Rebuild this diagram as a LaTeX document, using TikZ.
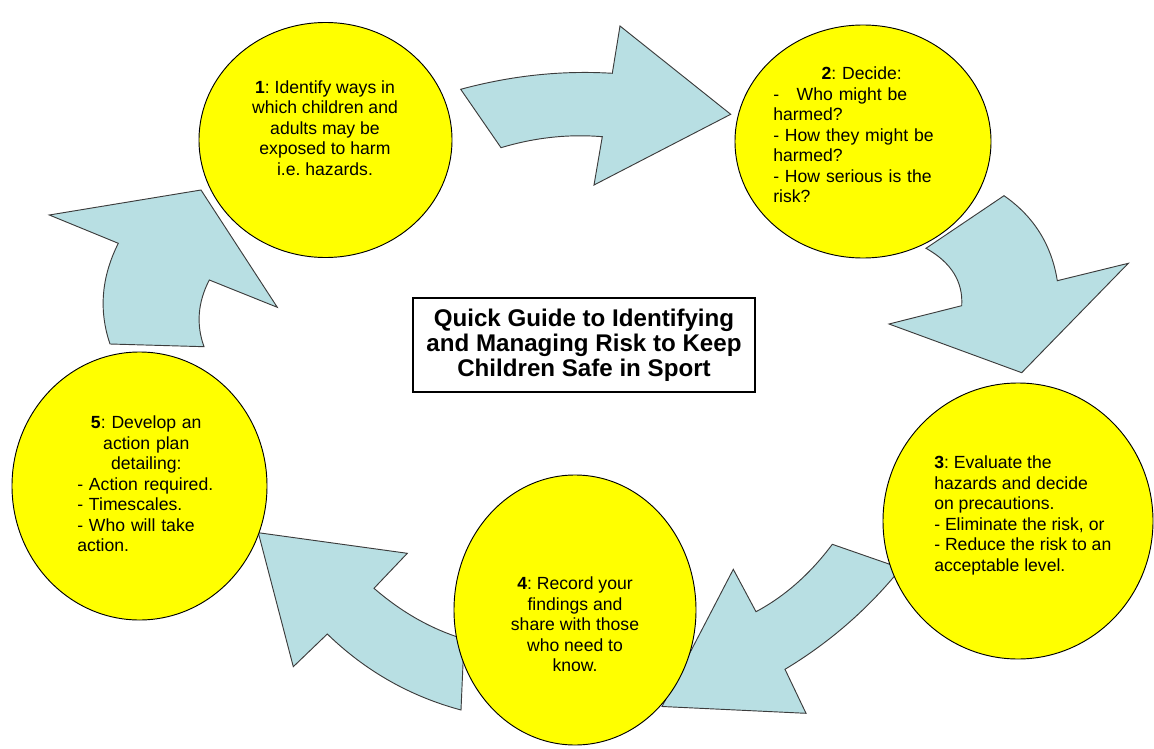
\documentclass[tikz,border=0pt]{standalone}
\usepackage{fontspec}
\setmainfont{Liberation Sans}
\usetikzlibrary{shapes.geometric}
\definecolor{arrowfill}{RGB}{184,223,227}
\definecolor{arrowline}{RGB}{60,60,60}
\definecolor{stepyellow}{RGB}{255,255,0}
\begin{document}
\begin{tikzpicture}[x=0.75pt,y=-0.75pt,
  blockarrow/.style={fill=arrowfill,draw=arrowline,line width=0.7pt,line join=miter},
  stepcircle/.style={ellipse,fill=stepyellow,draw=black,line width=0.7pt,inner sep=0pt},
  steptext/.style={inner sep=0pt,text=black,font=\frenchspacing\fontsize{13.2pt}{15.4pt}\selectfont},
  titlebox/.style={draw=black,line width=1.1pt,fill=white,inner sep=0pt,
    minimum width=256.5pt,minimum height=70.5pt,align=center,
    font=\bfseries\fontsize{18.1pt}{18.6pt}\selectfont}]
\useasboundingbox (0,0) rectangle (1154,749);

% curved block arrows, drawn under the circles
% 1 -> 2
\draw[blockarrow] (460.7,89.3) -- (501,147.7)
  .. controls (534.8,137.5) and (568.6,133.9) .. (602.3,136.7)
  -- (594,185) -- (730.7,114.3) -- (620,26) -- (612.3,73.3)
  .. controls (561.8,70.2) and (511.2,75.6) .. (460.7,89.3) -- cycle;
% 2 -> 3
\draw[blockarrow] (1004,195.7) -- (926,248.3)
  .. controls (951.3,262.5) and (963.2,281.7) .. (961.7,305.7)
  -- (889,324) -- (1021.7,372.7) -- (1128.3,263.3) -- (1057.3,280.7)
  .. controls (1051.6,244.8) and (1033.8,216.4) .. (1004,195.7) -- cycle;
% 3 -> 4
\draw[blockarrow] (832.3,544.3) -- (905,569.6) -- (895,575.5)
  .. controls (863.5,612.9) and (826.9,644.1) .. (785,669.3)
  -- (806,713.3) -- (662,706.5) -- (733.3,569.3) -- (756,611.7)
  .. controls (784.8,596.3) and (810.2,573.9) .. (832.3,544.3) -- cycle;
% 4 -> 5
\draw[blockarrow] (258.3,532.7) -- (407.3,553.3) -- (374,588.3)
  .. controls (399.7,610.6) and (427.3,626.8) .. (456.7,636.7)
  -- (464,641) -- (461,710)
  .. controls (409.9,696.3) and (365.3,670.9) .. (327.3,634)
  -- (293.3,666.7) -- cycle;
% 5 -> 1
\draw[blockarrow] (49.3,215) -- (201,190) -- (277.3,307.3) -- (209.3,280)
  .. controls (197.8,302.2) and (196,324.4) .. (204,346.7)
  -- (110,344)
  .. controls (98.6,310.5) and (101.4,276.9) .. (118.3,243.3) -- cycle;

% the five steps
\node[stepcircle,minimum width=189.75pt,minimum height=176.25pt] (c1) at (325.5,140) {};
\node[stepcircle,minimum width=192pt,minimum height=174.75pt] (c2) at (863,141.5) {};
\node[stepcircle,minimum width=202.5pt,minimum height=207pt] (c3) at (1018,521) {};
\node[stepcircle,minimum width=181.5pt,minimum height=202.5pt] (c4) at (575,610) {};
\node[stepcircle,minimum width=191.25pt,minimum height=201pt] (c5) at (139.5,486) {};

\node[steptext,align=center,anchor=north] (t1) at (325,80)
  {\textbf{1}: Identify ways in\\ which children and\\ adults may be\\ exposed to harm\\ i.e. hazards.};
\node[steptext,text width=132.75pt,anchor=north west] (t2) at (773,66.5)
  {\centering\textbf{2}: Decide:\par
   \raggedright -\ \ \ Who might be\\ harmed?\\ - How they might be\\ harmed?\\ - How serious is the\\ risk?\par};
\node[steptext,align=left,anchor=north west] (t3) at (934,455.5)
  {\textbf{3}: Evaluate the\\ hazards and decide\\ on precautions.\\ - Eliminate the risk, or\\ - Reduce the risk to an\\ acceptable level.};
\node[steptext,align=center,anchor=north] (t4) at (575,576.5)
  {\textbf{4}: Record your\\ findings and\\ share with those\\ who need to\\ know.};
\node[steptext,text width=103.5pt,anchor=north west] (t5) at (77,415.5)
  {\centering\textbf{5}: Develop an\\ action plan\\ detailing:\par
   \raggedright - Action required.\\ - Timescales.\\ - Who will take\\ action.\par};

% title in the middle
\node[titlebox] (title) at (584,345)
  {Quick Guide to Identifying\\ and Managing Risk to Keep\\ Children Safe in Sport};
\end{tikzpicture}
\end{document}
